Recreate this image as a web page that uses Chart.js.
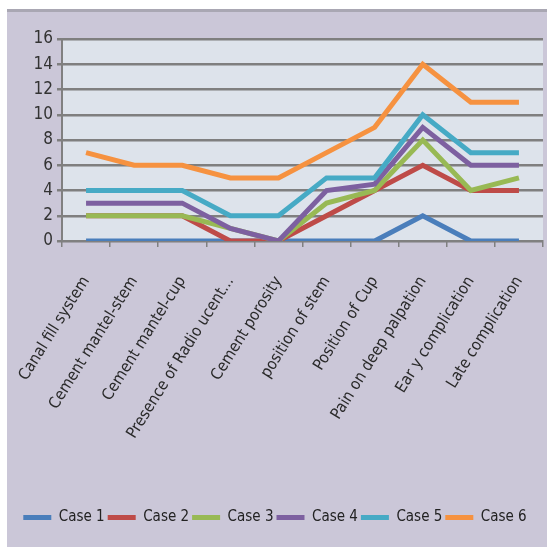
<!DOCTYPE html>
<html>
<head>
<meta charset="utf-8">
<script src="https://cdn.jsdelivr.net/npm/chart.js@4"></script>
<style>
	html, body { margin: 0; padding: 0; background: #fff; }
	#wrap {
		position: absolute; left: 7px; top: 9px; width: 540px; height: 538px;
		background: #cbc7d8; border-top: 3px solid #a9a7b3; box-sizing: border-box;
	}
	canvas { display: block; }
</style>
</head>
<body>
<div id="wrap"><canvas id="myChart" width="540" height="535"></canvas></div>
<script>
'use strict';

const labels = ['Canal fill system', 'Cement mantel-stem', 'Cement mantel-cup', 'Presence of Radio ucent...',
	'Cement porosity', 'position of stem', 'Position of Cup', 'Pain on deep palpation',
	'Ear y complication', 'Late complication'];

const case1 = [0, 0, 0, 0, 0, 0, 0, 2, 0, 0];
const case2 = [2, 2, 2, 0, 0, 2, 4, 6, 4, 4];
const case3 = [2, 2, 2, 1, 0, 3, 4, 8, 4, 5];
const case4 = [3, 3, 3, 1, 0, 4, 4.5, 9, 6, 6];
const case5 = [4, 4, 4, 2, 2, 5, 5, 10, 7, 7];
const case6 = [7, 6, 6, 5, 5, 7, 9, 14, 11, 11];

const seriesNames = ['Case 1', 'Case 2', 'Case 3', 'Case 4', 'Case 5', 'Case 6'];
const seriesColors = ['#4a7ebb', '#be4b48', '#98b954', '#7d60a0', '#46aac5', '#f69240'];
const yTicks = [0, 2, 4, 6, 8, 10, 12, 14, 16];

const plotBg = {
	id: 'plotBg',
	beforeDraw(chart) {
		const {ctx, chartArea: a} = chart;
		ctx.save();
		ctx.fillStyle = '#dde3eb';
		ctx.fillRect(a.left, a.top, a.right - a.left, a.bottom - a.top);
		ctx.restore();
	}
};

const datasets = [case1, case2, case3, case4, case5, case6].map((values, i) => ({
	label: seriesNames[i],
	data: values,
	borderColor: seriesColors[i],
	backgroundColor: seriesColors[i],
	borderWidth: 5,
	pointRadius: 0,
	tension: 0,
	order: 6 - i,
}));

const ctx = document.getElementById('myChart').getContext('2d');
new Chart(ctx, {
	type: 'line',
	data: {labels: labels, datasets: datasets},
	plugins: [plotBg],
	options: {
		responsive: false,
		animation: false,
		layout: {padding: {top: 27, right: 4, bottom: 12, left: 0}},
		plugins: {
			tooltip: {enabled: false},
			legend: {
				position: 'bottom',
				labels: {
					boxWidth: 28,
					boxHeight: 5,
					padding: 3,
					color: '#222',
					font: {family: 'DejaVu Sans Condensed', size: 15},
					sort: (a, b) => a.datasetIndex - b.datasetIndex,
					generateLabels: chart => Chart.defaults.plugins.legend.labels.generateLabels(chart)
						.map(item => Object.assign(item, {lineWidth: 0})),
				},
			},
		},
		scales: {
			x: {
				offset: true,
				afterFit: scale => {
					scale.height = 266;
					scale.paddingLeft = 0;
					scale.paddingRight = 0;
				},
				border: {color: '#808080', width: 2},
				grid: {drawOnChartArea: false, offset: true, tickLength: 6, color: '#808080', lineWidth: 1.5},
				ticks: {
					minRotation: 58, maxRotation: 58, padding: 26, autoSkip: false,
					color: '#2a2a2a',
					font: {family: 'DejaVu Sans Condensed', size: 16},
				},
			},
			y: {
				min: 0, max: 16,
				afterFit: scale => { scale.width = 55; },
				afterBuildTicks: scale => { scale.ticks = yTicks.map(v => ({value: v})); },
				border: {color: '#808080', width: 2},
				grid: {color: '#7f7f7f', lineWidth: 2.5, tickLength: 5},
				ticks: {
					autoSkip: false,
					padding: 4,
					color: '#333',
					font: {family: 'DejaVu Sans Condensed', size: 17},
				},
			},
		},
	},
});
</script>
</body>
</html>
